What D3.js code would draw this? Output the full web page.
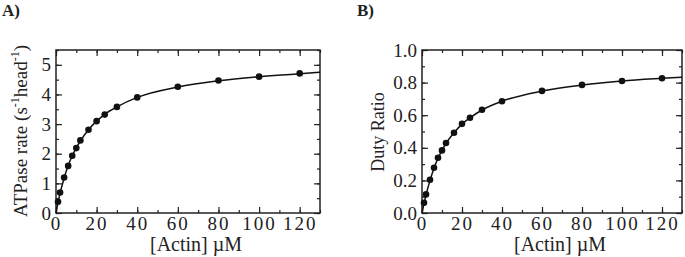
<!DOCTYPE html>
<html>
<head>
<meta charset="utf-8">
<script src="https://cdn.jsdelivr.net/npm/d3@7"></script>
<style>
  body { margin: 0; background: #fff; }
  svg { font-family: "Liberation Serif", "Times New Roman", serif; }
</style>
</head>
<body>
<div id="chart"></div>
<script>
// actin concentrations (uM)
const actin = [1, 2, 4, 6, 8, 10, 12, 16, 20, 24, 30, 40, 60, 80, 100, 120]
const atpaseRate = [0.38, 0.69, 1.2, 1.59, 1.93, 2.19, 2.45, 2.81, 3.1, 3.32, 3.58, 3.9, 4.26, 4.47, 4.6, 4.71]
const dutyRatio = [0.063, 0.114, 0.204, 0.278, 0.339, 0.384, 0.429, 0.492, 0.547, 0.584, 0.633, 0.686, 0.749, 0.786, 0.81, 0.827]

// fitted curves
const fitX = [0, 1, 2, 4, 6, 8, 10, 12, 16, 20, 24, 30, 40, 60, 80, 100, 120, 130]
const fitRate = [0, 0.35, 0.66, 1.18, 1.6, 1.93, 2.2, 2.43, 2.81, 3.1, 3.33, 3.58, 3.9, 4.25, 4.46, 4.6, 4.7, 4.75]
const fitDuty = [0, 0.058, 0.11, 0.2, 0.275, 0.336, 0.384, 0.427, 0.492, 0.545, 0.584, 0.632, 0.686, 0.748, 0.785, 0.81, 0.826, 0.833]

const xTicks = [0, 20, 40, 60, 80, 100, 120]
const rateTicks = [0, 1, 2, 3, 4, 5]
const dutyTicks = [0, 0.2, 0.4, 0.6, 0.8, 1.0]

const svg = d3.select("#chart").append("svg")
    .attr("width", 685)
    .attr("height", 257)

let drawPanel = function(opt) {
    const g = svg.append("g")
    const x = d3.scaleLinear().domain([0, 130]).range([opt.left, opt.right])
    const y = d3.scaleLinear().domain(opt.yDomain).range([213, 50])

    // inward ticks on all four sides, short ones in between
    const xMinor = d3.range(0, 131, 10)
    const yMinor = d3.range(opt.yDomain[0], opt.yDomain[1] + 1e-9, opt.yMinorStep)

    g.append("g")
        .attr("transform", `translate(0,${y.range()[0]})`)
        .call(d3.axisBottom(x).tickValues(xMinor).tickSize(-3).tickFormat(""))
    const xAxis = g.append("g")
        .attr("transform", `translate(0,${y.range()[0]})`)
        .call(d3.axisBottom(x).tickValues(xTicks).tickSize(-6).tickPadding(3).tickFormat(d3.format("d")))
    g.append("g")
        .attr("transform", `translate(0,${y.range()[1]})`)
        .call(d3.axisTop(x).tickValues(xMinor).tickSize(-3).tickFormat(""))
    g.append("g")
        .attr("transform", `translate(0,${y.range()[1]})`)
        .call(d3.axisTop(x).tickValues(xTicks).tickSize(-6).tickFormat(""))

    g.append("g")
        .attr("transform", `translate(${opt.left},0)`)
        .call(d3.axisLeft(y).tickValues(yMinor).tickSize(-3).tickFormat(""))
    const yAxis = g.append("g")
        .attr("transform", `translate(${opt.left},0)`)
        .call(d3.axisLeft(y).tickValues(opt.yTicks).tickSize(-6).tickPadding(5).tickFormat(opt.yFormat))
    g.append("g")
        .attr("transform", `translate(${opt.right},0)`)
        .call(d3.axisRight(y).tickValues(yMinor).tickSize(-3).tickFormat(""))
    g.append("g")
        .attr("transform", `translate(${opt.right},0)`)
        .call(d3.axisRight(y).tickValues(opt.yTicks).tickSize(-6).tickFormat(""))

    g.selectAll(".domain").remove()
    g.selectAll(".tick line").attr("stroke", "#222").attr("stroke-width", 1.2)
    g.selectAll(".tick text")
        .attr("font-family", "Liberation Serif")
        .attr("fill", "#222")
    xAxis.selectAll(".tick text")
        .attr("font-size", 19)
        .attr("letter-spacing", 2)
    yAxis.selectAll(".tick text")
        .attr("font-size", 19)

    // frame
    g.append("rect")
        .attr("x", opt.left)
        .attr("y", y.range()[1])
        .attr("width", opt.right - opt.left)
        .attr("height", y.range()[0] - y.range()[1])
        .attr("fill", "none")
        .attr("stroke", "#222")
        .attr("stroke-width", 1.5)

    // fit line
    const line = d3.line()
        .x(function (d) { return x(d[0]) })
        .y(function (d) { return y(d[1]) })
        .curve(d3.curveMonotoneX)

    g.append("path")
        .datum(fitX.map((v, i) => [v, opt.fit[i]]))
        .attr("fill", "none")
        .attr("stroke", "#111")
        .attr("stroke-width", 1.5)
        .attr("d", line)

    g.selectAll(".dot")
        .data(actin.map((v, i) => [v, opt.values[i]]))
        .enter().append("circle")
        .attr("class", "dot")
        .attr("cx", function (d) { return x(d[0]) })
        .attr("cy", function (d) { return y(d[1]) })
        .attr("r", 3.3)
        .attr("fill", "#111")

    // x title
    g.append("text")
        .attr("x", (opt.left + opt.right) / 2 + 8)
        .attr("y", 251)
        .attr("text-anchor", "middle")
        .attr("font-size", 20)
        .attr("fill", "#222")
        .text("[Actin] \u00b5M")

    // panel letter
    g.append("text")
        .attr("x", opt.letterX)
        .attr("y", 16)
        .attr("font-size", 17)
        .attr("font-weight", "bold")
        .attr("fill", "#222")
        .text(opt.letter)

    return g
}

const left = drawPanel({
    left: 56, right: 320,
    yDomain: [0, 5.5], yTicks: rateTicks, yMinorStep: 0.5, yFormat: d3.format("d"),
    values: atpaseRate, fit: fitRate, letter: "A)", letterX: 2
})

const yTitleA = left.append("text")
    .attr("transform", "translate(27,131) rotate(-90)")
    .attr("text-anchor", "middle")
    .attr("font-size", 19)
    .attr("fill", "#222")
yTitleA.append("tspan").text("ATPase rate (s")
yTitleA.append("tspan").attr("font-size", 12).attr("dy", -8).text("-1")
yTitleA.append("tspan").attr("dy", 8).text("head")
yTitleA.append("tspan").attr("font-size", 12).attr("dy", -8).text("-1")
yTitleA.append("tspan").attr("dy", 8).text(")")

const right = drawPanel({
    left: 422, right: 682,
    yDomain: [0, 1.0], yTicks: dutyTicks, yMinorStep: 0.1, yFormat: d3.format(".1f"),
    values: dutyRatio, fit: fitDuty, letter: "B)", letterX: 357
})

right.append("text")
    .attr("transform", "translate(384,132) rotate(-90)")
    .attr("text-anchor", "middle")
    .attr("font-size", 18)
    .attr("fill", "#222")
    .text("Duty Ratio")
</script>
</body>
</html>
